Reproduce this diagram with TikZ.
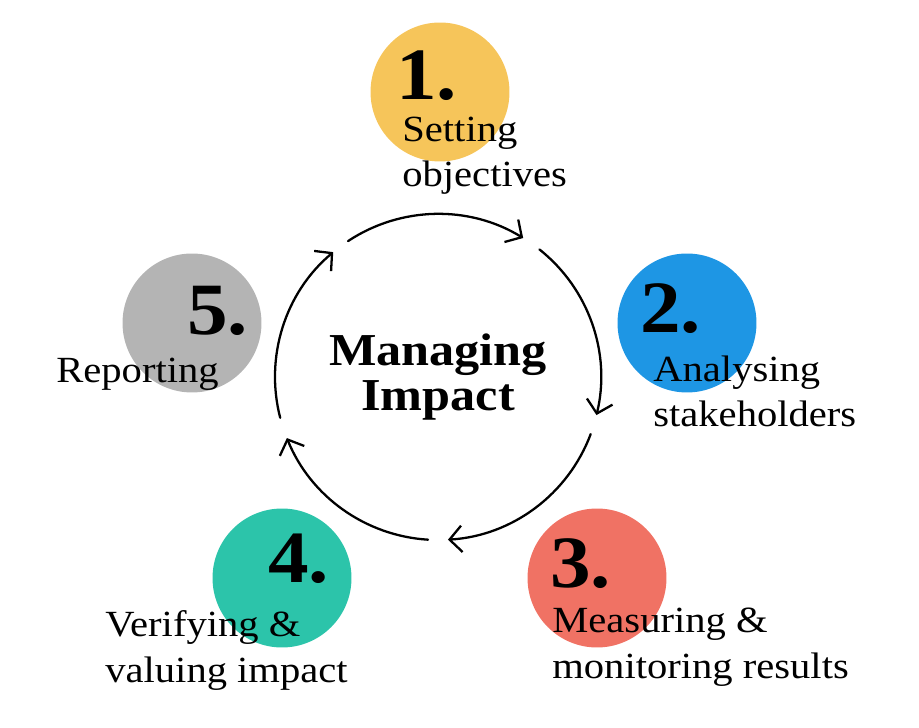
\documentclass[tikz,border=0pt]{standalone}
\usepackage{fontspec}
\setmainfont{Liberation Serif}[FakeStretch=1.1]
\usetikzlibrary{arrows.meta}
\definecolor{stepYellow}{RGB}{246,197,90}
\definecolor{stepBlue}{RGB}{30,150,228}
\definecolor{stepRed}{RGB}{240,114,100}
\definecolor{stepTeal}{RGB}{44,196,170}
\definecolor{stepGrey}{RGB}{180,180,180}
\begin{document}
\begin{tikzpicture}[x=0.02cm, y=0.02cm, line join=round, line cap=round,
	bubble/.style={circle, minimum size=2.78cm, inner sep=0pt},
	num/.style={anchor=base west, inner sep=0pt, font=\fontsize{42}{42}\selectfont\bfseries},
	lbl/.style={anchor=base west, inner sep=0pt, align=left, font=\fontsize{21}{26}\selectfont},
	cyc/.style={line width=1.3pt, -{Straight Barb[length=7pt, width=15pt, line width=1.3pt]}}]
		
		\useasboundingbox (0,0) rectangle (919,727);
		
		% Colored circles
		\node[bubble, fill=stepYellow] (c1) at (440,635) {};
		\node[bubble, fill=stepBlue] (c2) at (687,404) {};
		\node[bubble, fill=stepRed] (c3) at (597,149) {};
		\node[bubble, fill=stepTeal] (c4) at (282,149) {};
		\node[bubble, fill=stepGrey] (c5) at (192,404) {};
		
		% Center title
		\node[align=center, inner sep=0pt, font=\fontsize{26}{26}\selectfont\bfseries] (hub) at (438,350) {Managing\\Impact};
		
		% Cycle arrows round the title
		\foreach \a/\b in {123.5/58.5, 51.5/-13.5, -20.5/-86.5, -93.5/-158, 194.5/130}
		\draw[cyc] ([shift={(\a:163)}]hub.center) arc[start angle=\a, end angle=\b, radius=163];
		
		% Step numbers
		\node[num] (n1) at (396,627) {1.};
		\node[num] (n2) at (640,394) {2.};
		\node[num] (n3) at (550,140) {3.};
		\node[num] (n4) at (268,145) {4.};
		\node[num] (n5) at (187,392) {5.};
		
		% Step labels (base = last line)
		\node[lbl] (t1) at (402,540) {Setting\\objectives};
		\node[lbl] (t2) at (653,300) {Analysing\\stakeholders};
		\node[lbl] (t3) at (552,49) {Measuring \&\\monitoring results};
		\node[lbl] (t4) at (105,45) {Verifying \&\\valuing impact};
		\node[lbl] (t5) at (56,344) {Reporting};
		
\end{tikzpicture}
\end{document}
